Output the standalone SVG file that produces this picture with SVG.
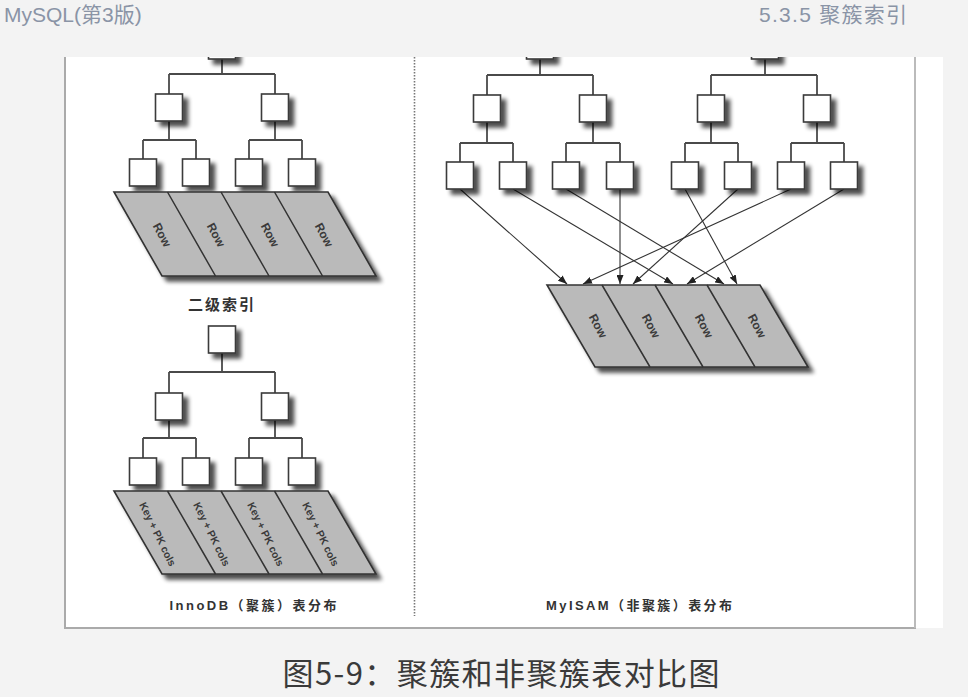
<svg xmlns="http://www.w3.org/2000/svg" width="976" height="697" viewBox="0 0 976 697">
<defs>
<filter id="sh" x="-30%" y="-30%" width="170%" height="170%">
<feGaussianBlur in="SourceAlpha" stdDeviation="2.2"/>
<feOffset dx="5" dy="5" result="o"/>
<feComponentTransfer><feFuncA type="linear" slope="0.7"/></feComponentTransfer>
<feMerge><feMergeNode/><feMergeNode in="SourceGraphic"/></feMerge>
</filter>
<clipPath id="panel"><rect x="65" y="57" width="878" height="571"/></clipPath>
<marker id="ah" markerUnits="userSpaceOnUse" markerWidth="9" markerHeight="7" refX="9" refY="3.5" orient="auto">
<path d="M0,0 L9,3.5 L0,7 z" fill="#222"/>
</marker>
</defs>
<style>
.box{fill:#fff;stroke:#3a3a3a;stroke-width:1.6;filter:url(#sh)}
.para{fill:#bababa;stroke:#333;stroke-width:1.6;filter:url(#sh)}
.div{stroke:#333;stroke-width:1.5;fill:none}
.tree{stroke:#4a4a4a;stroke-width:1.8;fill:none}
.arr{stroke:#333;stroke-width:1.1;fill:none;marker-end:url(#ah)}
.lbl{font-family:"Liberation Sans","Noto Sans CJK SC",sans-serif;font-weight:bold;fill:#333}
.rt{font-family:"Liberation Sans",sans-serif;font-weight:bold;fill:#3a3a3a;font-size:12px;text-anchor:middle;dominant-baseline:central}
.kt{font-family:"Liberation Sans",sans-serif;font-weight:bold;fill:#3a3a3a;font-size:10.5px;text-anchor:middle;dominant-baseline:central}
.hdr{font-family:"Liberation Sans","Noto Sans CJK SC",sans-serif;font-size:21px;fill:#8a94a6}
</style>
<rect x="0" y="0" width="976" height="697" fill="#f3f3f3"/>
<rect x="968" y="0" width="8" height="697" fill="#fff"/>
<rect x="65" y="57" width="878" height="571" fill="#fff"/>
<text class="hdr" x="4" y="22">MySQL(第3版)</text>
<text class="hdr" x="759" y="22" textLength="148">5.3.5 聚簇索引</text>
<g id="frame">
<path d="M65,57 V628 H916" stroke="#aaa" stroke-width="2" fill="none"/>
<path d="M915,57 V628" stroke="#bbb" stroke-width="2" fill="none"/>
<path d="M414.5,57 V616" stroke="#777" stroke-width="1.6" stroke-dasharray="1.5 1.5" fill="none"/>
</g>
<g clip-path="url(#panel)">
<g id="connectors">
<path class="tree" d="M222,59 V74 M169,74 H275 M169,74 V94 M275,74 V94 M169,121 V140 M143,140 H196 M143,140 V159 M196,140 V159 M275,121 V140 M249,140 H302 M249,140 V159 M302,140 V159"/>
<path class="tree" d="M222,353 V372 M169,372 H275 M169,372 V393 M275,372 V393 M169,420 V438 M143,438 H196 M143,438 V458 M196,438 V458 M275,420 V438 M249,438 H302 M249,438 V458 M302,438 V458"/>
<path class="tree" d="M540,59 V75 M487,75 H593 M487,75 V95 M593,75 V95 M487,122 V143 M460,143 H513 M460,143 V162 M513,143 V162 M593,122 V143 M566,143 H620 M566,143 V162 M620,143 V162"/>
<path class="tree" d="M765,59 V75 M711,75 H817 M711,75 V95 M817,75 V95 M711,122 V143 M685,143 H738 M685,143 V162 M738,143 V162 M817,122 V143 M791,143 H844 M791,143 V162 M844,143 V162"/>
<line class="arr" x1="460" y1="189" x2="567" y2="284"/>
<line class="arr" x1="513" y1="189" x2="673" y2="284"/>
<line class="arr" x1="566" y1="189" x2="724" y2="284"/>
<line class="arr" x1="620" y1="189" x2="620" y2="284"/>
<line class="arr" x1="685" y1="189" x2="737" y2="284"/>
<line class="arr" x1="738" y1="189" x2="633" y2="284"/>
<line class="arr" x1="791" y1="189" x2="583" y2="284"/>
<line class="arr" x1="844" y1="189" x2="687" y2="284"/>
</g>
<g id="clustered-index">
<rect class="box" x="208.5" y="32" width="27" height="27"/>
<rect class="box" x="155.5" y="94" width="27" height="27"/>
<rect class="box" x="261.5" y="94" width="27" height="27"/>
<rect class="box" x="129.5" y="159" width="27" height="27"/>
<rect class="box" x="182.5" y="159" width="27" height="27"/>
<rect class="box" x="235.5" y="159" width="27" height="27"/>
<rect class="box" x="288.5" y="159" width="27" height="27"/>
</g>
<g id="innodb-rows">
<polygon class="para" points="114,192 328,192 376,276 162,276"/>
<path class="div" d="M167.5,192 L215.5,276 M221,192 L269,276 M274.5,192 L322.5,276"/>
<text class="rt" transform="translate(162,235) rotate(62)">Row</text>
<text class="rt" transform="translate(216,235) rotate(62)">Row</text>
<text class="rt" transform="translate(270,235) rotate(62)">Row</text>
<text class="rt" transform="translate(324,235) rotate(62)">Row</text>
</g>
<g id="secondary-index">
<text class="lbl" x="222" y="310" font-size="15" text-anchor="middle" letter-spacing="2">二级索引</text>
<rect class="box" x="208.5" y="326" width="27" height="27"/>
<rect class="box" x="155.5" y="393" width="27" height="27"/>
<rect class="box" x="261.5" y="393" width="27" height="27"/>
<rect class="box" x="129.5" y="458" width="27" height="27"/>
<rect class="box" x="182.5" y="458" width="27" height="27"/>
<rect class="box" x="235.5" y="458" width="27" height="27"/>
<rect class="box" x="288.5" y="458" width="27" height="27"/>
</g>
<g id="secondary-leaves">
<polygon class="para" points="114,491 328,491 376,574 162,574"/>
<path class="div" d="M167.5,491 L215.5,574 M221,491 L269,574 M274.5,491 L322.5,574"/>
<text class="kt" transform="translate(158,534) rotate(64)">Key + PK cols</text>
<text class="kt" transform="translate(212,534) rotate(64)">Key + PK cols</text>
<text class="kt" transform="translate(266,534) rotate(64)">Key + PK cols</text>
<text class="kt" transform="translate(321,534) rotate(64)">Key + PK cols</text>
</g>
<g id="innodb-label">
<text class="lbl" x="253" y="610" font-size="13" text-anchor="middle" textLength="167">InnoDB（聚簇）表分布</text>
</g>
<g id="myisam-index-1">
<rect class="box" x="526.5" y="32" width="27" height="27"/>
<rect class="box" x="473.5" y="95" width="27" height="27"/>
<rect class="box" x="579.5" y="95" width="27" height="27"/>
<rect class="box" x="446.5" y="162" width="27" height="27"/>
<rect class="box" x="499.5" y="162" width="27" height="27"/>
<rect class="box" x="552.5" y="162" width="27" height="27"/>
<rect class="box" x="606.5" y="162" width="27" height="27"/>
</g>
<g id="myisam-index-2">
<rect class="box" x="751.5" y="32" width="27" height="27"/>
<rect class="box" x="697.5" y="95" width="27" height="27"/>
<rect class="box" x="803.5" y="95" width="27" height="27"/>
<rect class="box" x="671.5" y="162" width="27" height="27"/>
<rect class="box" x="724.5" y="162" width="27" height="27"/>
<rect class="box" x="777.5" y="162" width="27" height="27"/>
<rect class="box" x="830.5" y="162" width="27" height="27"/>
</g>
<g id="myisam-rows">
<polygon class="para" points="547,285 760,285 808,367 595,367"/>
<path class="div" d="M602,285 L650,367 M655,285 L703,367 M707,285 L755,367"/>
<text class="rt" transform="translate(598,326) rotate(62)">Row</text>
<text class="rt" transform="translate(651,326) rotate(62)">Row</text>
<text class="rt" transform="translate(704,326) rotate(62)">Row</text>
<text class="rt" transform="translate(757,326) rotate(62)">Row</text>
</g>
<g id="myisam-label">
<text class="lbl" x="639" y="610" font-size="13" text-anchor="middle" textLength="186">MyISAM（非聚簇）表分布</text>
</g>
</g>
<text x="501" y="685" font-family="'Noto Sans CJK SC',sans-serif" font-size="31" fill="#3a3a3a" text-anchor="middle" textLength="437">图5-9：聚簇和非聚簇表对比图</text>
</svg>
